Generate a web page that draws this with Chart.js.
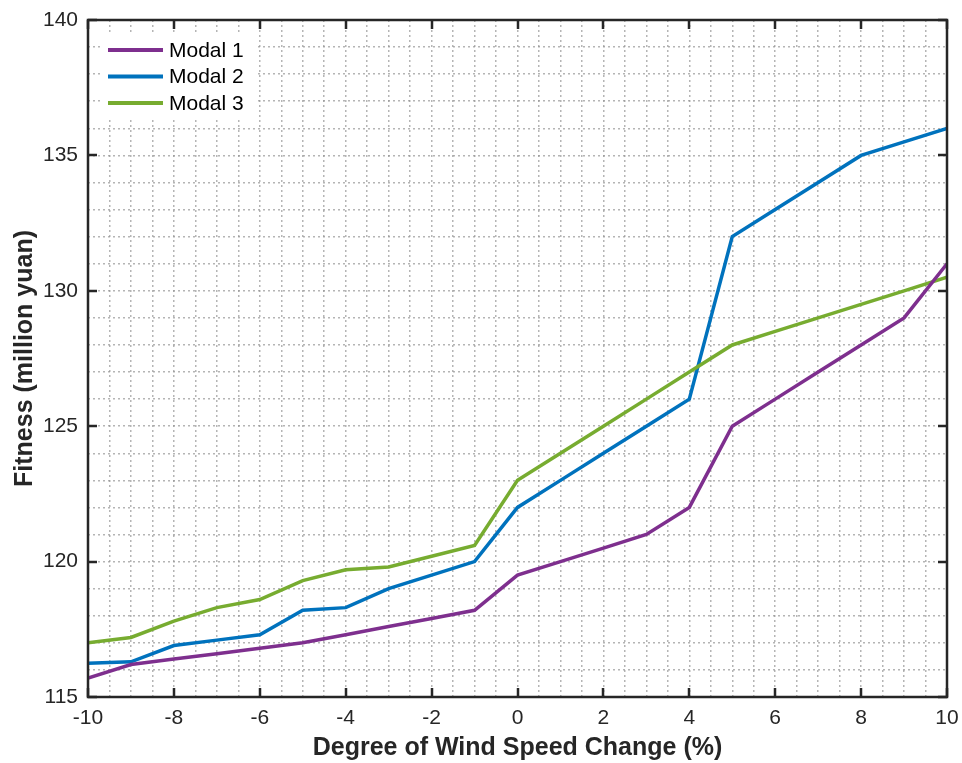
<!DOCTYPE html>
<html>
<head>
<meta charset="utf-8">
<script src="https://cdn.jsdelivr.net/npm/chart.js@4.4.1/dist/chart.umd.min.js"></script>
<style>
  html, body { margin: 0; padding: 0; background: #ffffff; }
  #wrap { width: 962px; height: 763px; position: relative; }
</style>
</head>
<body>
<div id="wrap"><canvas id="c" width="962" height="763"></canvas></div>
<script>
// ---- data ----
const windChange = [-10, -9, -8, -7, -6, -5, -4, -3, -2, -1, 0, 1, 2, 3, 4, 5, 6, 7, 8, 9, 10];
const modal1 = [115.7, 116.2, 116.4, 116.6, 116.8, 117.0, 117.3, 117.6, 117.9, 118.2, 119.5, 120.0, 120.5, 121.0, 122.0, 125.0, 126.0, 127.0, 128.0, 129.0, 131.0];
const modal2 = [116.25, 116.3, 116.9, 117.1, 117.3, 118.2, 118.3, 119.0, 119.5, 120.0, 122.0, 123.0, 124.0, 125.0, 126.0, 132.0, 133.0, 134.0, 135.0, 135.5, 136.0];
const modal3 = [117.0, 117.2, 117.8, 118.3, 118.6, 119.3, 119.7, 119.8, 120.2, 120.6, 123.0, 124.0, 125.0, 126.0, 127.0, 128.0, 128.5, 129.0, 129.5, 130.0, 130.5];
const seriesNames = ['Modal 1', 'Modal 2', 'Modal 3'];
const xTickLabels = [-10, -8, -6, -4, -2, 0, 2, 4, 6, 8, 10];
const yTickLabels = [115, 120, 125, 130, 135, 140];

const colors = ['#7E2F8E', '#0072BD', '#77AC30'];
const textColor = '#262626';
const FONT = "'Liberation Sans', Arial, Helvetica, sans-serif";

function pts(ys) { return windChange.map((x, i) => ({ x: x, y: ys[i] })); }

// Frame + inward ticks
const framePlugin = {
  id: 'frame',
  afterDraw(chart) {
    const ctx = chart.ctx;
    const a = chart.chartArea;
    const xs = chart.scales.x, ys = chart.scales.y;
    const tl = 9;
    ctx.save();
    ctx.strokeStyle = textColor;
    ctx.lineWidth = 2.5;
    ctx.beginPath();
    xTickLabels.forEach(v => {
      const px = Math.round(xs.getPixelForValue(v));
      ctx.moveTo(px, a.bottom); ctx.lineTo(px, a.bottom - tl);
      ctx.moveTo(px, a.top); ctx.lineTo(px, a.top + tl);
    });
    yTickLabels.forEach(v => {
      const py = Math.round(ys.getPixelForValue(v));
      ctx.moveTo(a.left, py); ctx.lineTo(a.left + tl, py);
      ctx.moveTo(a.right, py); ctx.lineTo(a.right - tl, py);
    });
    ctx.stroke();
    ctx.strokeRect(a.left, a.top, a.right - a.left, a.bottom - a.top);
    ctx.restore();
  }
};

// Legend inside the plot (upper-left), white background, no border
const legendPlugin = {
  id: 'insideLegend',
  afterDatasetsDraw(chart) {
    const ctx = chart.ctx;
    const a = chart.chartArea;
    ctx.save();
    ctx.fillStyle = '#ffffff';
    ctx.fillRect(a.left + 15, a.top + 15, 155, 84);
    ctx.font = "21px " + FONT;
    ctx.textBaseline = 'middle';
    ctx.textAlign = 'left';
    chart.data.datasets.forEach((ds, i) => {
      const y = a.top + 30 + i * 26.5;
      ctx.strokeStyle = ds.borderColor;
      ctx.lineWidth = 4;
      ctx.beginPath();
      ctx.moveTo(a.left + 20, y);
      ctx.lineTo(a.left + 75, y);
      ctx.stroke();
      ctx.fillStyle = '#000000';
      ctx.fillText(ds.label, a.left + 81, y + 1);
    });
    ctx.restore();
  }
};

const orders = [0, 2, 1];
const seriesValues = [modal1, modal2, modal3];
const gridColor = 'rgba(150,150,150,0.7)';

new Chart(document.getElementById('c'), {
  type: 'line',
  data: {
    datasets: seriesNames.map((name, i) => ({
      label: name,
      data: pts(seriesValues[i]),
      borderColor: colors[i],
      backgroundColor: colors[i],
      borderWidth: 3.5,
      pointRadius: 0,
      tension: 0,
      fill: false,
      order: orders[i]
    }))
  },
  options: {
    responsive: false,
    animation: false,
    events: [],
    layout: { padding: { top: 20, right: 15, left: 0, bottom: 0 } },
    plugins: { legend: { display: false }, tooltip: { enabled: false } },
    scales: {
      x: {
        type: 'linear',
        min: -10, max: 10,
        afterBuildTicks(scale) {
          const t = [];
          for (let v = -10; v <= 10.0001; v += 0.5) t.push({ value: Math.round(v * 10) / 10 });
          scale.ticks = t;
        },
        afterFit(scale) {
          scale.height = 66;
          scale.paddingLeft = 0; scale.paddingRight = 0;
          scale.paddingTop = 0; scale.paddingBottom = 0;
        },
        ticks: {
          autoSkip: false, maxRotation: 0, minRotation: 0,
          padding: 9,
          color: textColor,
          font: { family: FONT, size: 21 },
          callback(v) { return xTickLabels.includes(v) ? String(v) : ''; }
        },
        grid: { color: gridColor, lineWidth: 1.5, drawTicks: false, tickLength: 0 },
        border: { display: false, dash: [2, 3] },
        title: {
          display: true,
          text: 'Degree of Wind Speed Change (%)',
          color: textColor,
          font: { family: FONT, size: 25, weight: 'bold' },
          padding: { top: 0, bottom: 0 }
        }
      },
      y: {
        type: 'linear',
        min: 115, max: 140,
        afterBuildTicks(scale) {
          const t = [];
          for (let v = 115; v <= 140; v += 1) t.push({ value: v });
          scale.ticks = t;
        },
        afterFit(scale) {
          scale.width = 88;
          scale.paddingLeft = 0; scale.paddingRight = 0;
          scale.paddingTop = 0; scale.paddingBottom = 0;
        },
        ticks: {
          autoSkip: false,
          padding: 10,
          color: textColor,
          font: { family: FONT, size: 21 },
          callback(v) { return yTickLabels.includes(v) ? String(v) : ''; }
        },
        grid: { color: gridColor, lineWidth: 1.5, drawTicks: false, tickLength: 0 },
        border: { display: false, dash: [2, 3] },
        title: {
          display: true,
          text: 'Fitness (million yuan)',
          color: textColor,
          font: { family: FONT, size: 25, weight: 'bold' },
          padding: { top: 10, bottom: 0 }
        }
      }
    }
  },
  plugins: [legendPlugin, framePlugin]
});
</script>
</body>
</html>
